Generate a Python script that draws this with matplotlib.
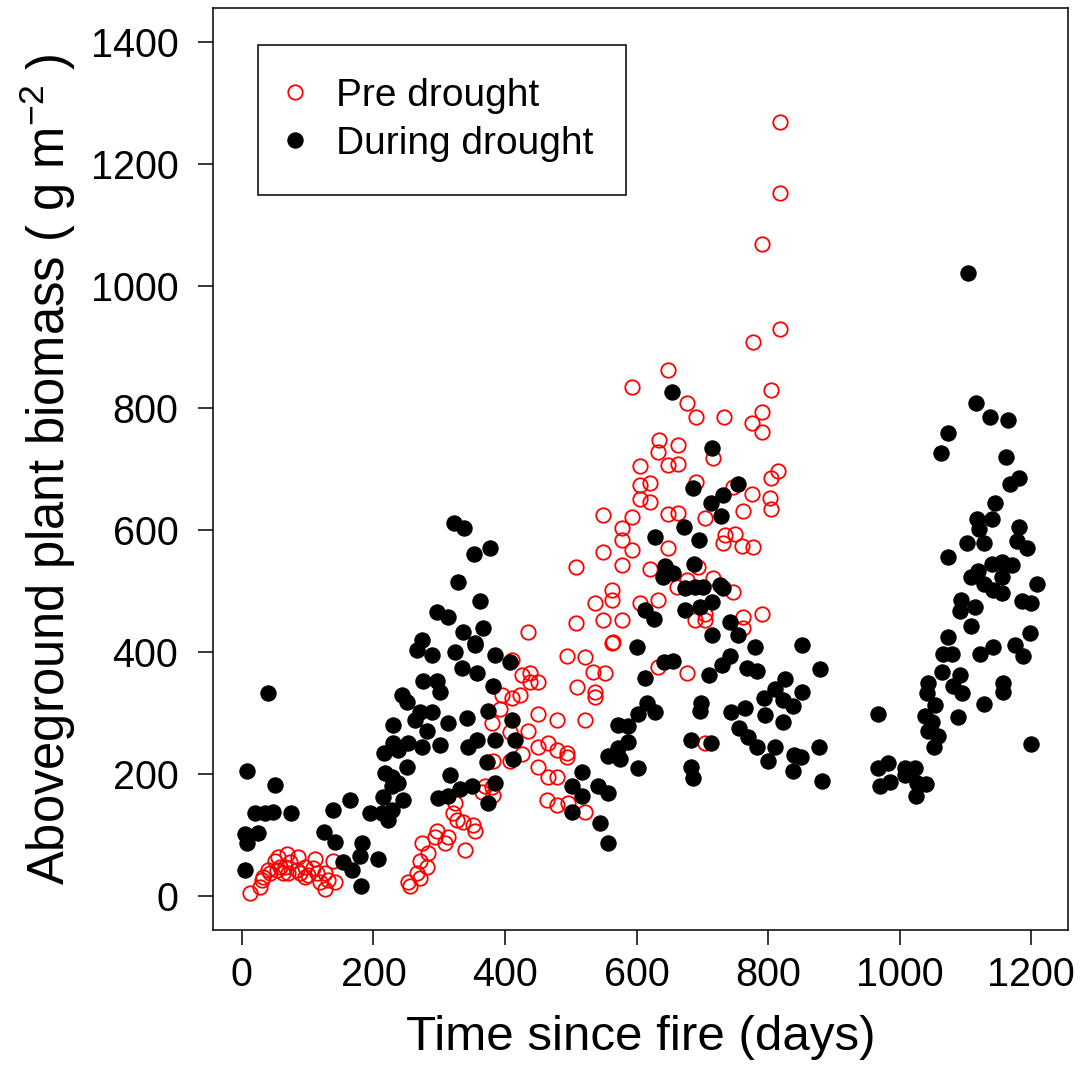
import matplotlib
matplotlib.use("Agg")
import matplotlib.pyplot as plt
from matplotlib.lines import Line2D

plt.rcParams.update({
    'font.family': ['Liberation Sans', 'DejaVu Sans'],
    'mathtext.fontset': 'custom',
    'mathtext.rm': 'Liberation Sans',
    'mathtext.it': 'Liberation Sans:italic',
    'mathtext.default': 'regular',
})

# Pre drought samples (days since fire, biomass g m-2)
pre_day = [12, 27, 30, 43, 40, 50, 55, 68, 73, 86, 83, 70, 65, 58, 96, 101, 111, 108, 114, 126,
           126, 139, 141, 131, 119, 96, 88, 63, 53, 32, 256, 252, 274,
           494, 522, 534, 552, 510, 537, 537, 411, 426, 438, 450, 438, 395, 411, 423, 392, 450,
           479, 522, 380, 408, 435, 465, 450, 479, 494, 494, 426, 382, 408, 450, 465, 479, 464,
           479, 496, 522, 370, 380, 365, 382, 324, 321, 327, 336, 351, 354, 297, 313, 294, 309,
           339, 283, 271, 281, 266, 271,
           549, 549, 508, 537, 563, 549, 508, 435, 563,
           633, 677, 704,
           818, 818, 791, 818, 777, 648, 593, 805,
           677, 690, 733, 791, 776, 791, 634, 663, 633, 716, 648, 663, 606, 690, 621, 606, 815,
           805, 747, 776, 803, 805, 605, 621, 762, 648, 663, 704, 593, 578, 735, 750, 732, 760,
           777, 578, 593, 648, 578, 621, 693, 677, 662, 716, 747, 605, 633, 704, 791, 762, 689,
           704, 578, 762, 564, 563]
pre_biomass = [5, 15, 26, 37, 42, 58, 64, 69, 56, 64, 42, 37, 47, 47, 47, 34, 61, 45, 37, 37,
               12, 58, 23, 26, 23, 31, 37, 37, 42, 31, 17, 23, 86,
               393, 391, 367, 365, 343, 334, 326, 386, 362, 365, 350, 350, 329, 324, 329, 307, 299,
               288, 288, 283, 268, 271, 250, 244, 239, 235, 227, 233, 222, 222, 211, 195, 195, 157,
               149, 152, 137, 181, 178, 170, 165, 152, 136, 124, 121, 116, 107, 107, 96, 96, 86,
               75, 70, 58, 47, 37, 29,
               624, 564, 540, 481, 501, 452, 447, 432, 485,
               375, 365, 250,
               1269, 1152, 1069, 929, 908, 862, 834, 830,
               808, 785, 785, 793, 775, 760, 747, 739, 728, 718, 706, 708, 705, 679, 677, 673, 697,
               685, 670, 659, 652, 634, 651, 646, 631, 626, 628, 620, 622, 604, 592, 594, 578, 573,
               572, 583, 567, 570, 542, 536, 539, 518, 506, 521, 498, 481, 485, 463, 463, 457, 452,
               452, 452, 439, 416, 414]

# During drought samples
dur_day = [40, 8, 50, 20, 35, 47, 75, 138, 164, 5, 8, 24, 5, 125, 141, 183, 179, 207, 154, 167,
           181, 195, 213, 228, 222, 245, 214, 228, 237, 251, 217, 228, 216, 230, 237, 252, 230, 243, 251,
           266, 289, 324, 354, 385, 408, 275, 297, 301, 335, 357, 382, 271, 289, 313, 342, 281, 263,
           274, 301, 344, 357, 385, 374, 411, 415, 373, 385, 412, 316, 298, 313, 332, 350, 374, 502,
           517, 517, 541, 557, 502, 545, 557, 557,
           322, 338, 377, 353, 329, 362, 297, 313, 367, 336, 274, 354,
           642, 656, 613, 710, 730, 742, 768, 783, 826, 811, 794, 823, 838, 852, 616, 602, 628, 572,
           587, 698, 697, 744, 765, 795, 823, 587, 572, 575, 683, 713, 756, 770, 783, 811, 800, 840,
           850, 838, 602, 683, 686,
           715, 754, 686, 732, 713, 729, 672, 628, 695, 643, 687, 656, 640, 674, 689, 701, 727, 732,
           715, 613, 627, 674, 697, 742, 715, 754, 601, 780, 852, 654,
           879, 878, 882, 967, 967, 982, 970, 985, 1008, 1024, 1008, 1027, 1040, 1025, 1043, 1042,
           1054, 1039, 1050, 1043, 1059, 1052, 1066, 1080, 1065, 1092, 1081, 1095, 1089, 1122, 1142,
           1176, 1187, 1157, 1157, 1128, 1200,
           1116, 1138, 1165, 1074, 1063, 1162, 1182, 1168, 1145, 1118, 1141, 1121, 1182, 1103, 1128,
           1179, 1194, 1074, 1141, 1156, 1171, 1119, 1108, 1156, 1209, 1128, 1142, 1156, 1094, 1115,
           1092, 1186, 1200, 1108, 1199, 1074, 1104]
dur_biomass = [333, 204, 182, 136, 136, 137, 136, 141, 157, 101, 86, 103, 42, 104, 88, 86, 66, 60, 55, 42,
               16, 136, 136, 141, 124, 157, 162, 181, 185, 211, 201, 195, 235, 250, 239, 250, 280, 329, 318,
               403, 395, 400, 411, 395, 383, 353, 353, 334, 373, 365, 345, 301, 301, 283, 291, 271, 288,
               244, 247, 244, 255, 255, 304, 288, 255, 219, 185, 225, 198, 161, 164, 176, 181, 152, 181,
               203, 164, 181, 168, 137, 119, 86, 230,
               611, 603, 570, 560, 514, 483, 465, 458, 440, 432, 419, 414,
               383, 385, 357, 362, 378, 394, 373, 368, 355, 340, 324, 321, 311, 334, 316, 299, 301, 280,
               278, 316, 304, 301, 308, 296, 285, 252, 242, 225, 255, 250, 276, 260, 244, 244, 221, 231,
               227, 204, 209, 211, 193,
               734, 675, 669, 657, 644, 623, 605, 588, 583, 541, 544, 529, 523, 505, 507, 506, 509, 505,
               482, 468, 454, 468, 473, 449, 428, 428, 408, 408, 411, 826,
               372, 244, 188, 298, 209, 218, 181, 186, 209, 209, 198, 185, 183, 163, 349, 332,
               313, 295, 285, 271, 263, 244, 397, 397, 367, 362, 345, 332, 293, 397, 408,
               411, 393, 349, 334, 314, 249,
               808, 785, 780, 759, 726, 719, 685, 676, 644, 618, 618, 601, 605, 578, 579,
               582, 570, 555, 544, 547, 542, 533, 523, 523, 511, 512, 502, 497, 485, 473,
               467, 483, 481, 442, 431, 424, 1021]

fig = plt.figure(figsize=(10.85, 10.69), dpi=100)
ax = fig.add_axes([0.1963, 0.130, 0.788, 0.8625])

pre_style = dict(ls='none', marker='o', ms=10.4, mfc='none', mec='red', mew=1.3)
dur_style = dict(ls='none', marker='o', ms=11, mfc='black', mec='black', mew=0.8)
ax.plot(pre_day, pre_biomass, **pre_style)
ax.plot(dur_day, dur_biomass, **dur_style)

ax.set_xlim(-44, 1256)
ax.set_ylim(-56, 1456)
ax.set_xticks(range(0, 1201, 200))
ax.set_yticks(range(0, 1401, 200))
for s in ax.spines.values():
    s.set_linewidth(1.1)
ax.tick_params(axis='both', direction='out', length=11, width=1.1, labelsize=28.5)
ax.tick_params(axis='x', pad=8)
ax.tick_params(axis='y', pad=14)

ax.set_xlabel("Time since fire (days)", fontsize=35.5)
ax.set_ylabel(r"Aboveground plant biomass ( g m$^{-2}$ )", fontsize=36.5)
ax.xaxis.set_label_coords(0.5, -0.092)
ax.yaxis.set_label_coords(-0.158, 0.5)

handles = [Line2D([], [], **pre_style), Line2D([], [], **dur_style)]
leg = ax.legend(handles, ["Pre drought", "During drought"], loc='upper left',
                bbox_to_anchor=(0.0526, 0.960), borderaxespad=0, fontsize=28,
                fancybox=False, framealpha=1, edgecolor='black', borderpad=0.85,
                handlelength=0.2, handletextpad=0.95, labelspacing=0.3)
leg.get_frame().set_linewidth(1.1)

fig.savefig("out.png", dpi=100)
